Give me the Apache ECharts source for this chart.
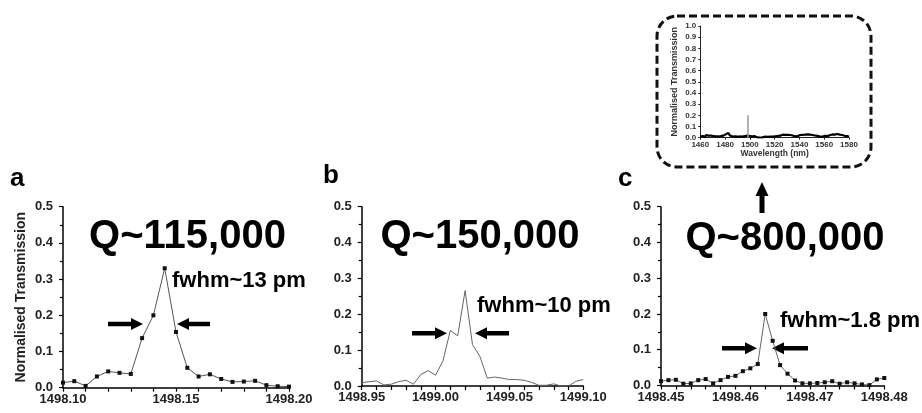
<!DOCTYPE html>
<html><head><meta charset="utf-8">
<script src="https://cdn.jsdelivr.net/npm/echarts@6/dist/echarts.min.js"></script>
<style>html,body{margin:0;padding:0;background:#fff}#c{width:922px;height:413px}</style>
</head><body><div id="c"></div>
<script>
// ---- data ----
const aWave = [1498.100,1498.105,1498.110,1498.115,1498.120,1498.125,1498.130,1498.135,1498.140,1498.145,1498.150,1498.155,1498.160,1498.165,1498.170,1498.175,1498.180,1498.185,1498.190,1498.195,1498.200];
const aTrans = [0.014,0.018,0.005,0.031,0.045,0.041,0.038,0.137,0.200,0.330,0.154,0.055,0.031,0.037,0.024,0.016,0.017,0.019,0.007,0.004,0.003];

const bWave = [1498.950,1498.955,1498.960,1498.965,1498.970,1498.975,1498.980,1498.985,1498.990,1498.995,1499.000,1499.005,1499.010,1499.015,1499.020,1499.025,1499.030,1499.035,1499.040,1499.045,1499.050,1499.055,1499.060,1499.065,1499.070,1499.075,1499.080,1499.085,1499.090,1499.095,1499.100];
const bTrans = [0.009,0.012,0.014,0.003,0.005,0.012,0.016,0.005,0.032,0.043,0.030,0.070,0.155,0.140,0.266,0.115,0.083,0.022,0.025,0.022,0.018,0.018,0.016,0.010,0.002,0.002,0.006,0.000,0.000,0.013,0.018];

const cWave = [1498.450,1498.451,1498.452,1498.453,1498.454,1498.455,1498.456,1498.457,1498.458,1498.459,1498.460,1498.461,1498.462,1498.463,1498.464,1498.465,1498.466,1498.467,1498.468,1498.469,1498.470,1498.471,1498.472,1498.473,1498.474,1498.475,1498.476,1498.477,1498.478,1498.479,1498.480];
const cTrans = [0.012,0.015,0.016,0.005,0.006,0.015,0.018,0.006,0.015,0.024,0.027,0.040,0.048,0.060,0.200,0.125,0.057,0.033,0.014,0.006,0.006,0.007,0.009,0.012,0.005,0.009,0.006,0.003,0.001,0.017,0.021];

const insetStart = 1460, insetStep = 0.5;
const insetNoise = [
0.012,0.025,0.008,0.022,0.015,0.028,0.01,0.02,0.006,0.024,
0.014,0.026,0.009,0.019,0.012,0.023,0.005,0.018,0.011,0.02,
0.004,0.015,0.008,0.013,0.002,0.012,0.006,0.016,0.003,0.011,
0.007,0.017,0.005,0.014,0.009,0.02,0.006,0.018,0.012,0.024,
0.015,0.03,0.018,0.035,0.022,0.042,0.025,0.038,0.02,0.033,
0.016,0.028,0.01,0.022,0.008,0.019,0.012,0.024,0.006,0.018,
0.009,0.021,0.005,0.017,0.011,0.023,0.007,0.019,0.01,0.02,
0.012,0.026,0.014,0.029,0.016,0.031,0.018,0.027,0.011,0.03,
0.015,0.032,0.019,0.028,0.012,0.025,0.009,0.021,0.014,0.024,
0.006,0.015,0.003,0.012,0.005,0.01,0.002,0.009,0.004,0.011,
0.003,0.008,0.001,0.007,0.004,0.009,0.002,0.006,0.003,0.008,
0.002,0.007,0.004,0.01,0.001,0.006,0.003,0.009,0.005,0.011,
0.004,0.012,0.006,0.014,0.008,0.015,0.005,0.013,0.009,0.018,
0.012,0.022,0.014,0.027,0.017,0.03,0.013,0.026,0.018,0.029,
0.015,0.025,0.011,0.022,0.014,0.024,0.009,0.019,0.012,0.02,
0.006,0.015,0.004,0.012,0.008,0.016,0.005,0.014,0.01,0.019,
0.013,0.024,0.016,0.028,0.014,0.026,0.018,0.031,0.015,0.027,
0.019,0.033,0.016,0.029,0.021,0.034,0.017,0.028,0.015,0.026,
0.012,0.024,0.014,0.022,0.009,0.02,0.011,0.019,0.007,0.016,
0.004,0.012,0.003,0.01,0.005,0.011,0.002,0.009,0.006,0.013,
0.008,0.017,0.01,0.016,0.007,0.014,0.011,0.02,0.013,0.022,
0.014,0.025,0.017,0.029,0.019,0.032,0.016,0.027,0.02,0.03,
0.018,0.033,0.021,0.03,0.016,0.028,0.019,0.031,0.014,0.024,
0.01,0.02,0.008,0.017,0.006,0.014,0.009,0.015,0.005,0.012,
0.008];
const spikeWave = [1498.46, 1498.46];
const spikeTrans = [0, 0.2];

const panelLetters = ['a','b','c'];
const qLabels = ['Q~115,000','Q~150,000','Q~800,000'];
const fwhmLabels = ['fwhm~13 pm','fwhm~10 pm','fwhm~1.8 pm'];
const yAxisName = 'Normalised Transmission';
const insetXName = 'Wavelength (nm)';

// ---- chart ----
const FONT = '"Liberation Sans", Arial, sans-serif';
const zip = (x, y) => x.map((v, i) => [v, y[i]]);
const insetData = insetNoise.map((v, i) => [insetStart + i * insetStep, v]);

function xAx(gi, min, max, interval, split) {
  return {
    type: 'value', gridIndex: gi, min: min, max: max, interval: interval,
    axisLine: { show: true, onZero: false, lineStyle: { color: '#000', width: 1.5 } },
    axisTick: { show: true, length: 4, lineStyle: { color: '#000', width: 1.2 } },
    minorTick: { show: true, splitNumber: split, length: 4, lineStyle: { color: '#000', width: 1.2 } },
    splitLine: { show: false }, minorSplitLine: { show: false },
    axisLabel: { margin: 5, color: '#222', fontFamily: FONT, fontWeight: 'bold', fontSize: 13,
      formatter: v => v.toFixed(2), showMinLabel: true, showMaxLabel: true }
  };
}
function yAx(gi, name) {
  return {
    type: 'value', gridIndex: gi, min: 0, max: 0.5, interval: 0.1,
    name: name || '', nameLocation: 'middle', nameGap: 35,
    nameTextStyle: { fontFamily: FONT, fontWeight: 'bold', fontSize: 14, color: '#222' },
    axisLine: { show: true, onZero: false, lineStyle: { color: '#000', width: 1.5 } },
    axisTick: { show: true, length: 4, lineStyle: { color: '#000', width: 1.2 } },
    minorTick: { show: true, splitNumber: 2, length: 3, lineStyle: { color: '#000', width: 1.2 } },
    splitLine: { show: false }, minorSplitLine: { show: false },
    axisLabel: { margin: 10, color: '#222', fontFamily: FONT, fontWeight: 'bold', fontSize: 13,
      formatter: v => v.toFixed(1) }
  };
}

function hArrow(tail, tip, y) {
  const d = tip > tail ? 1 : -1, hl = 12, hw = 6, sw = 2.2;
  const b = tip - d * hl;
  return { type: 'polygon', silent: true,
    shape: { points: [[tail, y - sw], [b, y - sw], [b, y - hw], [tip, y], [b, y + hw], [b, y + sw], [tail, y + sw]] },
    style: { fill: '#000' } };
}
function vArrowUp(x, tip, tail) {
  const hl = 14, hw = 6.5, sw = 2.5, b = tip + hl;
  return { type: 'polygon', silent: true,
    shape: { points: [[x - sw, tail], [x - sw, b], [x - hw, b], [x, tip], [x + hw, b], [x + sw, b], [x + sw, tail]] },
    style: { fill: '#000' } };
}
function txt(text, x, y, size, align) {
  return { type: 'text', x: x, y: y, silent: true,
    style: { text: text, fill: '#000', font: 'bold ' + size + 'px ' + FONT, align: align || 'left', verticalAlign: 'middle' } };
}

const chart = echarts.init(document.getElementById('c'), null, { renderer: 'canvas' });
chart.setOption({
  animation: false,
  backgroundColor: '#fff',
  grid: [
    { left: 63, top: 206.7, width: 226, height: 181 },
    { left: 361.7, top: 206.7, width: 221.6, height: 179.3 },
    { left: 661, top: 206.7, width: 223.3, height: 178.8 },
    { left: 700.3, top: 26, width: 148.7, height: 111.7 }
  ],
  xAxis: [
    xAx(0, 1498.10, 1498.20, 0.05, 5),
    xAx(1, 1498.95, 1499.10, 0.05, 5),
    xAx(2, 1498.45, 1498.48, 0.01, 5),
    { type: 'value', gridIndex: 3, min: 1460, max: 1580, interval: 20,
      name: insetXName, nameLocation: 'middle', nameGap: 10,
      nameTextStyle: { fontFamily: FONT, fontWeight: 'bold', fontSize: 8.5, color: '#333' },
      axisLine: { show: true, onZero: false, lineStyle: { color: '#222', width: 1 } },
      axisTick: { show: true, length: 2, lineStyle: { color: '#222' } },
      splitLine: { show: false },
      axisLabel: { margin: 3, color: '#333', fontFamily: FONT, fontWeight: 'bold', fontSize: 8,
        formatter: v => String(v) } }
  ],
  yAxis: [
    yAx(0, yAxisName), yAx(1), yAx(2),
    { type: 'value', gridIndex: 3, min: 0, max: 1, interval: 0.1,
      name: yAxisName, nameLocation: 'middle', nameGap: 21,
      nameTextStyle: { fontFamily: FONT, fontWeight: 'bold', fontSize: 9, color: '#333' },
      axisLine: { show: true, onZero: false, lineStyle: { color: '#222', width: 1 } },
      axisTick: { show: true, length: 2, lineStyle: { color: '#222' } },
      splitLine: { show: false },
      axisLabel: { margin: 4, color: '#333', fontFamily: FONT, fontWeight: 'bold', fontSize: 8,
        formatter: v => v.toFixed(1) } }
  ],
  series: [
    { type: 'line', xAxisIndex: 0, yAxisIndex: 0, data: zip(aWave, aTrans),
      symbol: 'rect', symbolSize: 4, itemStyle: { color: '#111' },
      lineStyle: { color: '#555', width: 1 } },
    { type: 'line', xAxisIndex: 1, yAxisIndex: 1, data: zip(bWave, bTrans),
      showSymbol: false, symbol: 'none', lineStyle: { color: '#666', width: 1 } },
    { type: 'line', xAxisIndex: 2, yAxisIndex: 2, data: zip(cWave, cTrans),
      symbol: 'rect', symbolSize: 4, itemStyle: { color: '#111' },
      lineStyle: { color: '#666', width: 1 } },
    { type: 'line', xAxisIndex: 3, yAxisIndex: 3, data: insetData,
      symbol: 'none', lineStyle: { color: '#000', width: 2.2 } },
    { type: 'line', xAxisIndex: 3, yAxisIndex: 3, data: zip(spikeWave, spikeTrans),
      symbol: 'none', lineStyle: { color: '#999', width: 1.5 } }
  ],
  graphic: [
    { type: 'rect', silent: true, shape: { x: 657, y: 16, width: 214, height: 151, r: 20 },
      style: { fill: 'none', stroke: '#111', lineWidth: 3, lineDash: [8, 4] } },
    txt(panelLetters[0], 10, 179, 26),
    txt(panelLetters[1], 323, 176, 26),
    txt(panelLetters[2], 618, 179, 26),
    txt(qLabels[0], 187.5, 236.5, 40, 'center'),
    txt(qLabels[1], 480, 236.5, 40, 'center'),
    txt(qLabels[2], 785, 238.5, 40, 'center'),
    txt(fwhmLabels[0], 172, 280.5, 22),
    txt(fwhmLabels[1], 477, 306, 22),
    txt(fwhmLabels[2], 780, 321, 22),
    hArrow(108, 143, 324), hArrow(210, 177, 324),
    hArrow(412, 447, 333.3), hArrow(509, 475, 333.3),
    hArrow(722, 757, 348.3), hArrow(808, 772, 348.3),
    vArrowUp(762, 182, 213)
  ]
});
</script>
</body></html>
